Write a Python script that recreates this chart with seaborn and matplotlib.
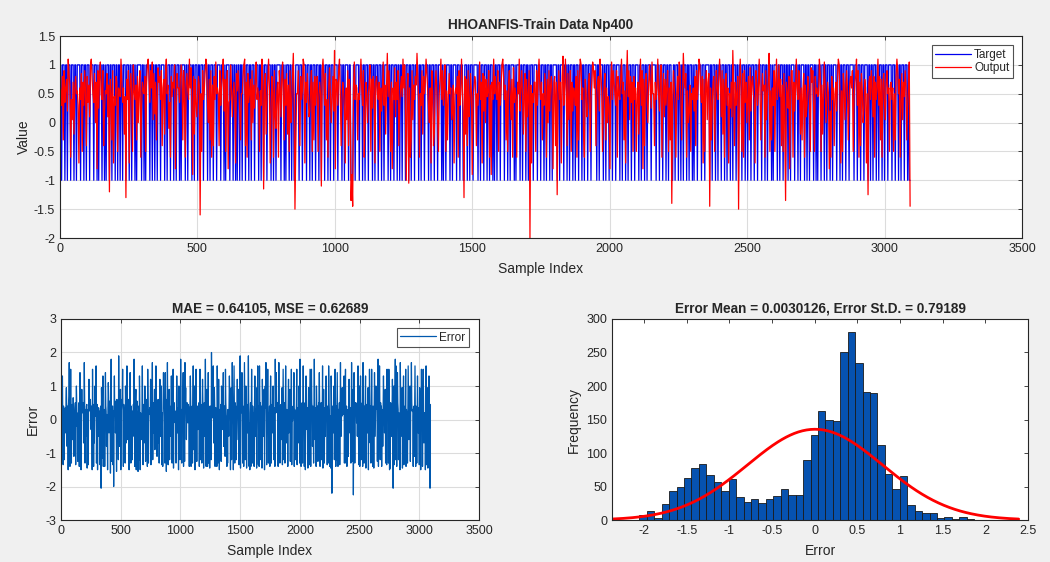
import numpy as np
import pandas as pd
import matplotlib
matplotlib.use("Agg")
import matplotlib.pyplot as plt
import seaborn as sns

# target class per plotted sample, one row per 72 training samples (1 -> +1, 0 -> -1)
target_bits = (
    "110111011011101110110111" "101110110111011110111010" "111011010111011011101101"
    "101101110111011011101011" "111011010111101101101101" "110111101101110111011011"
    "101011110110111101101110" "110111011110110111011101" "111011101011110111011010"
    "110110111011101101110111" "101101101110111101101101" "111101110101110110110011"
    "110111011110111011011101" "110110111011101101110111" "101111011011110110001101"
    "111011101101110111101101" "110111011011110110111011" "101101101110111011011101"
    "111011011101111011011101" "110111101011011110110111" "101110111001110110111011"
    "111011011101110110111010" "110111011110111011011110" "101111011011101101011101"
    "111011101110110111011011" "111011011110111011011101" "101110111011011101110111"
    "111011011110110111011101" "110111101101110110111011" "101111011011101101111011"
    "111011101110111011011100" "110111011011011101101110" "101110111101110111110110"
    "111011011101110110111011" "011101101110111011011101" "110111011110111011011110"
    "101111011011101101101101" "111011101101111011011011" "110110101110111011011101"
    "101111011101101110111011" "111011101110111011110110" "110111011011101101110111"
    "101110111011011101110100"
)

# model output for the same samples
output_vals = [
    .7, .55, .3, .8, -.3, .9, .35, .6, .75, .2, 1.1, .85, .65, -.6, .4, .05, .7, -.2, .6, .8, .5, .55, .3, -.7,
    .6, .4, .85, -.5, .7, .3, .9, .55, -.4, .8, .35, .65, .1, 1.0, 1.1, .75, .5, .35, .85, 0, .7, -.8, .9, .25,
    .8, 1.05, .5, .4, .9, -.4, .2, .55, .5, .85, .1, .65, -1.2, .75, .5, -.3, .9, -.7, .45, .3, .8, .7, -.5, .6,
    .55, .45, 1.1, .7, .35, .6, -.2, .45, -1.3, .75, .4, .9, -.7, .6, .85, .5, -.5, 1.0, .55, .4, .65, -.3, .8, 0,
    .6, .9, -.6, .3, .7, .55, .5, .8, -.5, .65, 1.0, 1.1, .75, .35, .9, .6, 1.05, .05, .85, .15, .7, -.3, .4, .95,
    .7, .8, .4, .9, -.4, .6, .75, -.2, .85, 1.1, .5, .65, -.1, .35, -.6, .8, .45, .7, .6, 1.0, -.8, .25, .85, .6,
    .6, .35, .75, 1.0, .8, -.3, .9, .45, -.6, .65, .85, .55, .4, 1.1, .6, .95, .2, -.9, .8, -.2, .75, .35, .1, .5,
    .8, .65, -1.6, .5, -.5, .9, .4, .55, .85, 1.1, 1.0, .3, 0, .75, -.3, .9, -.6, .65, -.4, .8, .4, 1.05, .5, .6,
    .5, -.4, .9, .3, .6, .8, 1.1, .2, .75, -.5, .55, .9, -.8, .35, .4, 1.0, .6, .1, .5, .7, .45, -.7, .85, .55,
    .9, .6, .2, -.3, .5, .5, .8, 1.0, 1.1, -.4, .7, -.6, .85, .35, .55, .75, -.3, .9, 0, .65, .25, .8, 1.05, .4,
    .6, .4, -.5, .55, .3, 1.1, .7, -1.15, .65, .85, -.2, .35, .75, 1.1, .6, -.7, .2, .8, .5, -.6, .9, .1, -.1, .55,
    .7, -.6, .9, .6, .1, .8, 1.05, .4, -.3, .75, .3, .85, -.2, .65, -.5, .9, 0, .35, .8, 1.2, .4, -1.5, -.4, .5,
    .5, .9, .3, -.4, .8, .4, .55, 1.1, 1.0, -.7, .7, .35, .85, .45, .1, .2, .6, .9, -.5, .7, -.3, .8, .3, .65,
    .8, -.5, .45, .7, .5, -1.1, .9, 1.1, .75, .3, .85, -.3, .4, -.6, .65, .95, .5, 0, .45, .8, .2, 1.25, -.8, .75,
    .7, .3, .9, 1.1, .5, -.4, .4, .7, .55, .25, -.7, .6, .05, .9, -.4, .75, .5, -1.35, -.9, -1.45, .6, 1.05, .4, .65,
    .6, -.3, .5, .4, .7, 1.1, .6, .3, .9, -.6, -.1, .7, .45, 0, .5, .65, 1.0, -.5, .75, .25, .8, .6, -.7, .7,
    .8, .5, .4, .7, -.5, .6, .2, .55, 1.05, .3, .65, -.2, .6, 1.2, .45, .9, .5, -.5, .7, -.8, .6, .4, .95, .1,
    .7, .4, .9, -.4, .3, .6, .8, .45, 1.1, .6, 1.0, .2, -1.0, .55, .85, -1.05, .6, -.6, -.3, .9, .05, .65, .4, .8,
    .65, 1.2, .8, .4, -.6, .5, .3, .9, -.2, .8, .5, .7, 1.1, .85, .55, .25, 0, .6, -.7, .9, .5, -.4, -.2, .6,
    .9, .6, .1, -.5, .5, .8, 1.1, .4, .9, .3, .7, 1.0, -.5, .55, -.3, .45, .85, .5, .6, .05, .2, .65, -.7, .5,
    .6, .5, .8, -.6, .9, .3, .5, 1.1, .6, .2, -1.3, .8, -.2, .75, -.4, .9, .1, .35, .85, .5, -.9, .45, .6, .8,
    .7, -.4, .5, .3, .6, 1.05, .4, .7, -.7, .85, .2, .8, 0, .75, .45, .55, .9, -.6, .65, -.9, .7, .4, 1.1, .5,
    .8, .5, .4, .9, -.5, .7, .3, .6, 1.0, 1.1, .8, .4, .65, -.3, .55, -.5, .7, .9, .45, .05, .75, -.6, .95, .35,
    .6, .4, -.6, .7, .5, 1.1, .2, .6, .9, .45, -.2, .55, .85, -.5, .75, .1, .5, .9, -2.0, .65, -.7, .5, .35, .7,
    .7, -.5, .9, .3, .8, 1.1, .6, .4, .7, -.3, .5, .3, .85, .55, -.6, .75, 0, .9, .2, .65, .8, .4, -.8, .7,
    .8, -.4, .7, -1.25, .5, .9, .4, .7, -.7, .8, 1.15, .3, .6, 1.1, .55, -.4, .85, .05, .35, .9, -.5, .7, .2, .6,
    .5, .3, .8, -.6, .9, -.3, .7, 1.1, 1.0, .4, .6, -.2, -.6, .75, .55, .1, .25, .65, .85, -.5, .35, .7, 1.05, .95,
    .6, .9, -.4, .4, .7, .8, .2, 1.1, .9, .55, -.5, .35, .65, .85, -.3, .6, 0, .45, .3, -.8, .7, 1.05, .4, .9,
    .7, .5, .3, .9, -.6, .8, .5, .4, .75, 1.1, .5, .7, -.3, .55, -.7, .65, 1.25, .45, .9, .05, .8, .35, .7, -.5,
    .8, .4, .6, -.5, .5, .7, -.2, .6, 1.1, .3, .9, -.8, .75, -.4, .65, .85, .4, 0, .7, 1.0, .6, .25, 1.05, .5,
    .5, -.4, .7, .4, .6, 1.1, .5, .2, .7, 1.0, -.6, .45, .85, .1, .75, .3, .65, .9, -.5, .6, -.3, .7, -1.4, .35,
    .9, .6, .3, -.6, .5, .8, .4, 1.05, .9, .45, -.3, .5, 1.2, .75, .6, .85, -.6, .55, 0, .2, .65, -.5, .5, .4,
    .6, .2, .8, -.4, .9, .4, .7, 1.1, 1.0, .5, .35, .8, -.7, .75, -.5, .65, .9, .05, .7, .85, -1.45, .6, -.3, .3,
    .7, .8, -.5, .3, .9, .6, .4, .8, 1.1, .7, .1, .9, -.2, .75, -.6, .65, .85, .3, .6, -.7, .5, .25, .7, .1,
    1.25, .6, -.4, .7, .3, .5, .8, -1.5, .6, 1.1, .55, -.5, .85, -.6, .9, .35, .7, 0, .4, .8, -.3, .95, .2, .7,
    .8, .5, .4, -.7, .9, .7, .3, .6, 1.1, .5, -.3, .45, .85, .55, .65, -.6, .9, .05, .5, .7, 1.2, -.5, .55, -.3,
    .6, .3, .9, -.5, .7, 1.1, .4, .6, 1.0, .45, .75, -.4, .65, -.5, .85, 0, -1.35, .7, .5, .25, .8, -.8, .4, .9,
    .9, -.6, .7, .2, .5, 1.1, .6, .4, .9, .7, -.2, .6, -.3, .55, .85, -.6, .65, .1, .3, .8, .6, .35, -.5, .95,
    .7, .9, .3, -.5, .8, .5, .6, .45, .5, 1.1, .85, -.5, .65, -.2, .55, 1.05, .6, 0, .35, .7, .5, -.8, .2, -.6,
    .8, .4, .6, -.4, .5, .7, .2, .8, 1.1, 1.0, .5, -.7, .55, -.5, .85, .65, .05, .45, .9, .6, -.3, .35, .7, .8,
    .6, .9, -.5, .4, .7, .8, 1.1, .3, .9, -.6, .7, -.4, .85, .55, 0, .25, .75, .6, -.7, .5, -1.25, .7, .8, .4,
    .9, .6, .1, .8, -.6, .7, .4, .6, 1.1, .3, .8, -.3, .75, -.6, .65, .85, .35, .05, .7, .9, .5, .6, -.5, .65,
    .7, .4, .6, -.5, .5, -.3, .8, 1.1, .9, .5, .75, -.6, .35, .85, .05, .7, .45, .9, .65, -.3, .3, .6, 1.05, -1.45,
]
SAMPLE_STEP = 3  # each listed value stands for 3 training samples

# error histogram counts (45 bins)
hist_counts = [7, 14, 3, 24, 43, 49, 62, 77, 84, 67, 56, 43, 61, 35, 27, 31,
               26, 31, 36, 47, 38, 38, 89, 127, 163, 150, 148, 250, 280, 234,
               191, 189, 112, 69, 46, 65, 22, 14, 11, 10, 3, 4, 1, 5, 1]
HIST_START = -2.055
HIST_WIDTH = 0.0872

err_mean = 0.0030126
err_std = 0.79189
mae = 0.64105
mse = 0.62689

# ---- data frames
n = min(len(target_bits), len(output_vals))
target = np.array([1.0 if c == "1" else -1.0 for c in target_bits[:n]])
output = np.array(output_vals[:n])
df = pd.DataFrame({"idx": np.arange(n) * SAMPLE_STEP,
                   "Target": target, "Output": output})
df["Error"] = df["Target"] - df["Output"]

hist_lo = HIST_START
hist_hi = HIST_START + HIST_WIDTH * len(hist_counts)
hdf = pd.DataFrame({
    "center": HIST_START + HIST_WIDTH * (np.arange(len(hist_counts)) + 0.5),
    "count": hist_counts,
})
n_total = sum(hist_counts)
xs = np.linspace(-2.375, 2.39, 300)
pdf = np.exp(-0.5 * ((xs - err_mean) / err_std) ** 2) / (err_std * np.sqrt(2 * np.pi))
fit = pd.DataFrame({"x": xs, "y": pdf * n_total * HIST_WIDTH})

# ---- style
sns.set_style("white")
plt.rcParams["font.family"] = ["Liberation Sans", "DejaVu Sans"]
plt.rcParams["axes.unicode_minus"] = False
plt.rcParams["xtick.direction"] = "in"
plt.rcParams["ytick.direction"] = "in"
plt.rcParams["xtick.top"] = True
plt.rcParams["ytick.right"] = True
plt.rcParams["xtick.major.size"] = 3
plt.rcParams["ytick.major.size"] = 3

fig = plt.figure(figsize=(10.5, 5.62), dpi=100, facecolor="#F0F0F0")
ax_top = fig.add_axes([0.0571, 0.5765, 0.9162, 0.3594])
ax_err = fig.add_axes([0.0581, 0.0747, 0.3981, 0.3577])
ax_hist = fig.add_axes([0.5829, 0.0747, 0.3962, 0.3577])

def style_axes(ax):
    ax.set_facecolor("white")
    for s in ax.spines.values():
        s.set_color("#262626")
        s.set_linewidth(0.8)
    ax.tick_params(labelsize=9, colors="#262626", width=0.6)
    ax.set_axisbelow(True)

def fmt(v):
    return f"{v:g}"

# top: target vs output
sns.lineplot(data=df, x="idx", y="Target", ax=ax_top, color="#0000EE",
             lw=0.9, label="Target", sort=False)
sns.lineplot(data=df, x="idx", y="Output", ax=ax_top, color="#FF0000",
             lw=0.9, label="Output", sort=False)
ax_top.set_xlim(0, 3500)
ax_top.set_ylim(-2, 1.5)
ax_top.set_xticks(np.arange(0, 3501, 500))
ax_top.set_yticks(np.arange(-2, 1.51, 0.5))
ax_top.set_yticklabels([fmt(v) for v in np.arange(-2, 1.51, 0.5)])
ax_top.grid(True, color="#DCDCDC", lw=0.8)
ax_top.set_title("HHOANFIS-Train Data Np400", fontsize=9.8, fontweight="bold", pad=5)
ax_top.set_xlabel("Sample Index", fontsize=10, labelpad=5)
ax_top.set_ylabel("Value", fontsize=10, labelpad=2)
style_axes(ax_top)
leg = ax_top.legend(loc="upper right", fontsize=8.5, frameon=True, fancybox=False,
                    edgecolor="#262626", handlelength=3, handletextpad=0.3,
                    borderpad=0.3, labelspacing=0.15, borderaxespad=0,
                    bbox_to_anchor=(0.9906, 0.955))
leg.get_frame().set_linewidth(0.8)

# bottom left: error
sns.lineplot(data=df, x="idx", y="Error", ax=ax_err, color="#0058AE",
             lw=0.9, label="Error", sort=False)
ax_err.set_xlim(0, 3500)
ax_err.set_ylim(-3, 3)
ax_err.set_xticks(np.arange(0, 3501, 500))
ax_err.set_yticks(np.arange(-3, 4, 1))
ax_err.grid(True, color="#DCDCDC", lw=0.8)
ax_err.set_title(f"MAE = {mae}, MSE = {mse}", fontsize=9.8, fontweight="bold", pad=5)
ax_err.set_xlabel("Sample Index", fontsize=10, labelpad=5)
ax_err.set_ylabel("Error", fontsize=10, labelpad=4)
style_axes(ax_err)
leg = ax_err.legend(loc="upper right", fontsize=8.5, frameon=True, fancybox=False,
                    edgecolor="#262626", handlelength=3, handletextpad=0.3,
                    borderpad=0.3, borderaxespad=0, bbox_to_anchor=(0.976, 0.955))
leg.get_frame().set_linewidth(0.8)

# bottom right: histogram + normal fit
sns.histplot(data=hdf, x="center", weights="count", binwidth=HIST_WIDTH,
             binrange=(hist_lo, hist_hi), ax=ax_hist, color="#0652B0",
             edgecolor="#1A1A1A", linewidth=0.6, alpha=1)
sns.lineplot(data=fit, x="x", y="y", ax=ax_hist, color="#FF0000", lw=2)
ax_hist.set_xlim(-2.375, 2.5)
ax_hist.set_ylim(0, 300)
hx = np.arange(-2, 2.51, 0.5)
ax_hist.set_xticks(hx)
ax_hist.set_xticklabels([fmt(v) for v in hx])
ax_hist.set_yticks(np.arange(0, 301, 50))
ax_hist.set_title(f"Error Mean = {err_mean}, Error St.D. = {err_std}",
                  fontsize=9.8, fontweight="bold", pad=5)
ax_hist.set_xlabel("Error", fontsize=10, labelpad=5)
ax_hist.set_ylabel("Frequency", fontsize=10, labelpad=4)
style_axes(ax_hist)

fig.savefig("out.png", dpi=100, facecolor=fig.get_facecolor())
